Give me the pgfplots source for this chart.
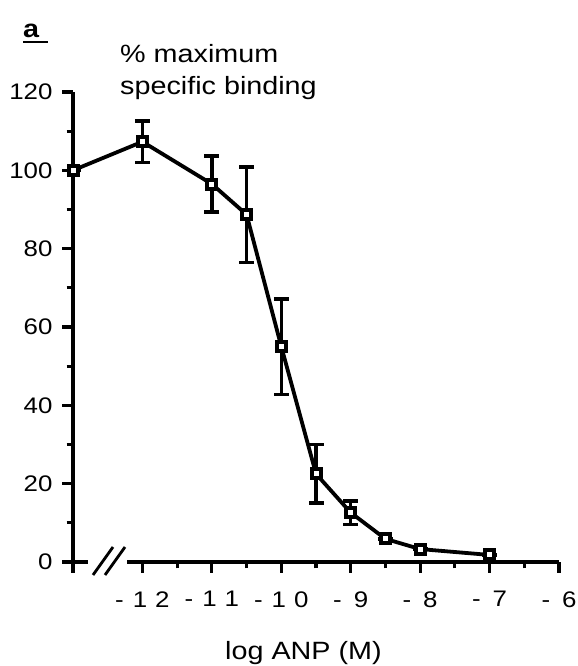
\documentclass[border=0pt]{standalone}
\usepackage{fontspec}
\setmainfont{Liberation Sans}
\newfontfamily\sfont[FakeStretch=1.15]{Liberation Sans}
\usepackage{pgfplots}
\pgfplotsset{compat=1.18}
\pgfplotstableread{
x y e
-13 100 0
-12 107.3 5.3
-11 96.5 7.2
-10.5 88.7 12.2
-10 55 12.2
-9.5 22.5 7.5
-9 12.6 3
-8.5 5.9 0
-8 3.3 0
-7 1.8 0
}\datatab
\newcommand\tl[2]{-\hspace{9bp}#1\hspace{8bp}#2}
\newcommand\ts[1]{-\hspace{12bp}#1}
\begin{document}
\begin{tikzpicture}[x=1bp,y=1bp]
\useasboundingbox (0,0) rectangle (578,666);
\begin{axis}[
 at={(73bp,104bp)}, anchor=south west,
 scale only axis, width=486bp, height=470bp,
 xmin=-13, xmax=-6, ymin=0, ymax=120,
 axis lines=left, axis line style={line width=3.5bp, -},
 xtick pos=bottom, ytick pos=left,
 clip=false,
 tick align=outside,
 major tick length=11bp, minor tick length=6.5bp,
 tick style={line width=3.2bp, black},
 xtick={-13,-12,...,-6},
 minor xtick={-11.5,-10.5,-9.5,-8.5,-7.5,-6.5},
 xticklabels={,\tl12,\tl11,\tl10,\ts9,\ts8,\ts7,\ts6},
 ytick={0,20,...,120},
 minor ytick={10,30,...,110},
 yticklabels={0,20,40,60,80,100,120},
 ticklabel style={font=\sfont\fontsize{22.5bp}{26bp}\selectfont},
 xticklabel style={yshift=-15bp},
 yticklabel style={xshift=-6bp},
]
\addplot[line width=3.8bp, black, mark=square*, mark size=4.5bp,
  mark options={fill=white, line width=4bp, solid},
  error bars/.cd, y dir=both, y explicit,
  error bar style={line width=3.5bp},
  error mark options={rotate=90, line width=3.5bp, mark size=7.5bp}]
  table[x=x, y=y, y error=e] {\datatab};
\end{axis}
\fill[white] (88,99) rectangle (127,109);
\draw[line width=2.8bp] (93,91)--(113,119) (105,91)--(125,119);
\node[anchor=base west, inner sep=0, font=\sfont\fontsize{25bp}{30bp}\selectfont] at (120,603) {\% maximum};
\node[anchor=base west, inner sep=0, font=\sfont\fontsize{25bp}{30bp}\selectfont] at (120,571) {specific binding};
\node[anchor=base west, inner sep=0, font=\sfont\fontsize{25bp}{30bp}\selectfont] at (225,6) {log ANP (M)};
\node[anchor=base west, inner sep=0, font=\sfont\bfseries\fontsize{25bp}{30bp}\selectfont] at (23,628) {a};
\draw[line width=2.2bp] (23,624) -- (48,624);
\end{tikzpicture}
\end{document}
